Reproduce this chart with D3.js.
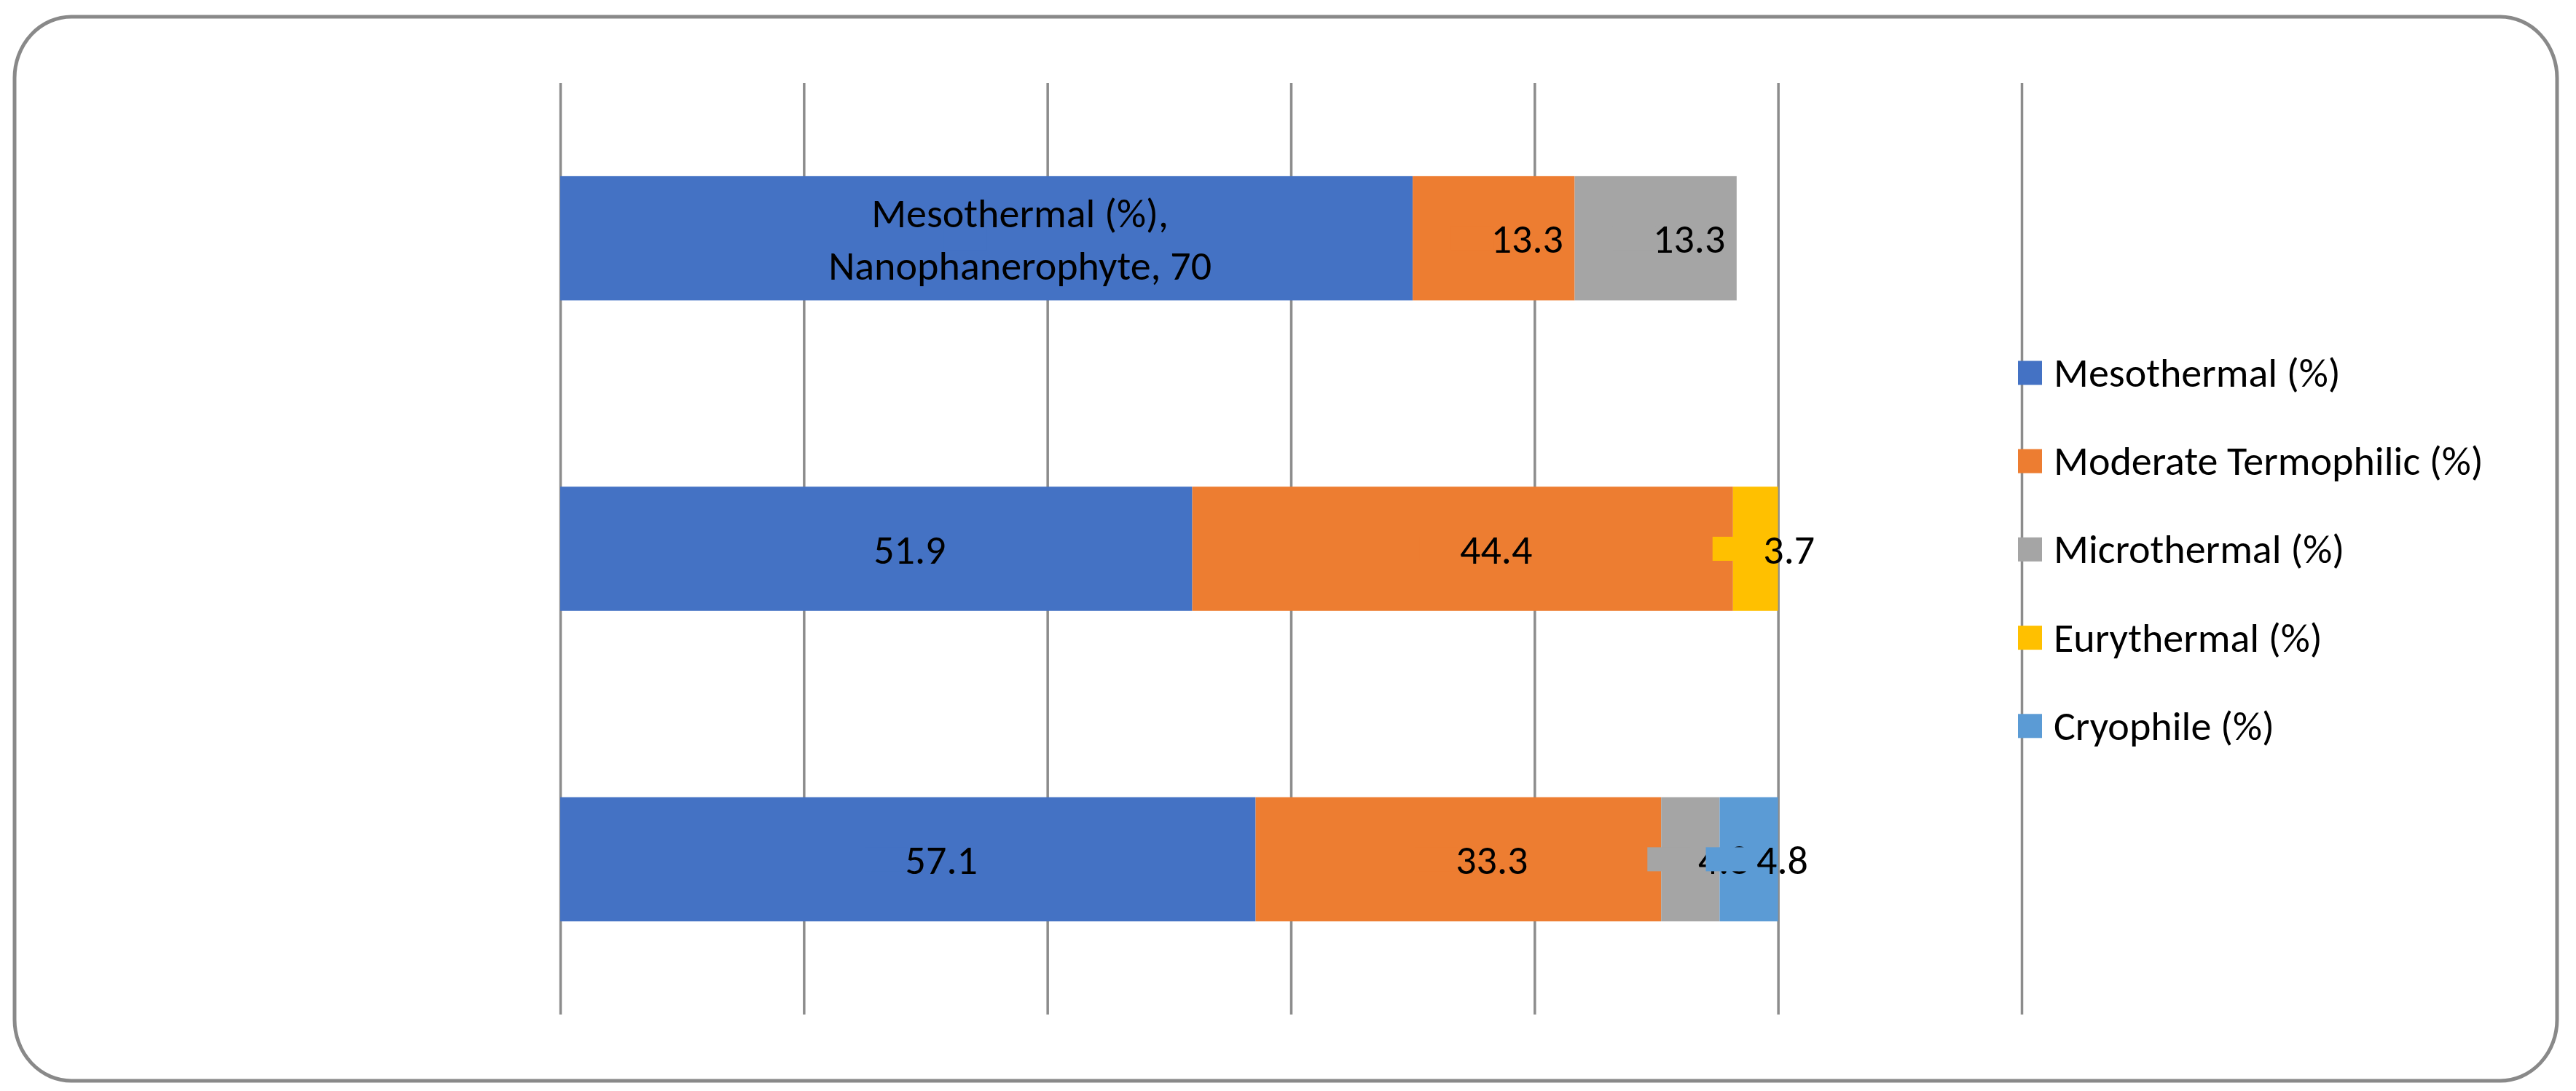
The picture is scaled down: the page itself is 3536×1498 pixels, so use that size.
<!DOCTYPE html>
<html>
<head>
<meta charset="utf-8">
<script src="https://cdn.jsdelivr.net/npm/d3@7"></script>
<style>
  html, body { margin: 0; padding: 0; background: #fff; }
  text { font-family: Carlito, Lato, "Noto Sans", sans-serif; fill: #000; }
</style>
</head>
<body>
<svg id="chart"></svg>
<script>
// categories top to bottom (only the first name is shown in the chart)
const categories = ['Nanophanerophyte', 'Group 2', 'Group 3'];
const seriesNames = ['Mesothermal (%)', 'Moderate Termophilic (%)', 'Microthermal (%)', 'Eurythermal (%)', 'Cryophile (%)'];
const mesothermal = [70, 51.9, 57.1];
const moderateTermophilic = [13.3, 44.4, 33.3];
const microthermal = [13.3, 0, 4.8];
const eurythermal = [0, 3.7, 0];
const cryophile = [0, 0, 4.8];
const xTicks = [0, 20, 40, 60, 80, 100, 120];
const colors = ['#4472C4', '#ED7D31', '#A5A5A5', '#FFC000', '#5B9BD5'];

const width = 3536;
const height = 1498;
const plot = {left: 769, right: 2775, top: 114, bottom: 1393};
const fontSize = 56;

let svg = d3.select('#chart').attr('width', width).attr('height', height);

// table for the stack
let values = [mesothermal, moderateTermophilic, microthermal, eurythermal, cryophile];
let rows = categories.map((c, i) => {
  let row = {category: c};
  seriesNames.forEach((s, j) => { row[s] = values[j][i]; });
  return row;
});
let stacked = d3.stack().keys(seriesNames)(rows);

let x = d3.scaleLinear().domain([0, 120]).range([plot.left, plot.right]);
let y = d3.scaleBand().domain(categories).range([plot.top, plot.bottom])
  .paddingInner(0.6).paddingOuter(0.3);

// outer frame
svg.append('rect')
  .attr('x', 20).attr('y', 23)
  .attr('width', 3490).attr('height', 1461)
  .attr('rx', 78).attr('ry', 84)
  .attr('fill', '#fff')
  .attr('stroke', '#898989')
  .attr('stroke-width', 5);

// vertical gridlines, no tick labels
let grid = svg.append('g')
  .attr('transform', `translate(0,${plot.top})`)
  .call(d3.axisBottom(x).tickValues(xTicks).tickSize(plot.bottom - plot.top).tickFormat(''));
grid.select('.domain').remove();
grid.selectAll('.tick line').attr('stroke', '#8c8c8c').attr('stroke-width', 3.5);

// bars
let layers = svg.append('g').selectAll('g')
  .data(stacked)
  .join('g')
  .attr('fill', (d, i) => colors[i]);

layers.selectAll('rect')
  .data(d => d.filter(p => p[1] - p[0] > 0))
  .join('rect')
  .attr('x', d => x(d[0]))
  .attr('y', d => y(d.data.category))
  .attr('width', d => x(d[1]) - x(d[0]))
  .attr('height', y.bandwidth());

// data labels, drawn series by series with their filled label box
let labelShift = 46;
let boxHalf = 59;
let boxHeight = 33;
let labels = svg.append('g');
stacked.forEach((layer, si) => {
  layer.forEach(p => {
    let v = p[1] - p[0];
    if (v <= 0) return;
    let cx = (x(p[0]) + x(p[1])) / 2;
    let cy = y(p.data.category) + y.bandwidth() / 2;
    labels.append('rect')
      .attr('x', cx - boxHalf)
      .attr('y', cy - boxHeight / 2)
      .attr('width', boxHalf)
      .attr('height', boxHeight)
      .attr('fill', colors[si]);
    let t = labels.append('text')
      .attr('x', cx + labelShift)
      .attr('text-anchor', 'middle')
      .attr('font-size', fontSize);
    if (si === 0 && p.data.category === categories[0]) {
      t.append('tspan').attr('x', cx + labelShift).attr('y', cy - 15)
        .text(layer.key + ',');
      t.append('tspan').attr('x', cx + labelShift).attr('y', cy + 57)
        .text(p.data.category + ', ' + v);
    } else {
      t.attr('y', cy + 20).text(d3.format('.1f')(v));
    }
  });
});

// legend
let legend = svg.append('g').attr('transform', 'translate(2770,512)');
let item = legend.selectAll('g')
  .data(seriesNames)
  .join('g')
  .attr('transform', (d, i) => `translate(0,${i * 121.2})`);
item.append('rect')
  .attr('x', 0).attr('y', -16.5)
  .attr('width', 33).attr('height', 33)
  .attr('fill', (d, i) => colors[i]);
item.append('text')
  .attr('x', 49).attr('y', 19)
  .attr('font-size', fontSize)
  .text(d => d);
</script>
</body>
</html>
